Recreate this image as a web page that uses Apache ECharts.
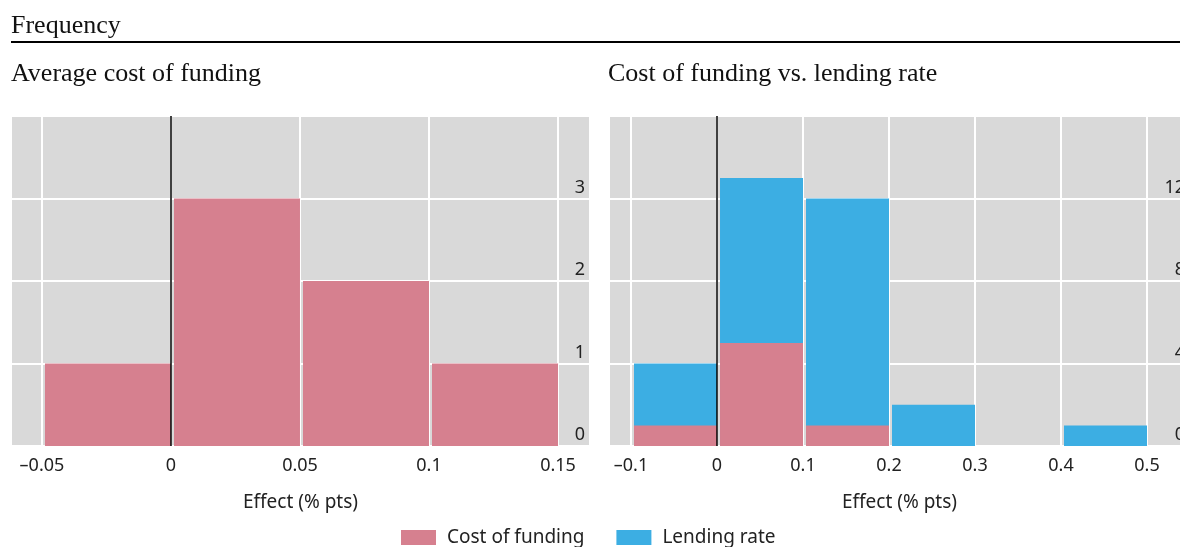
<!DOCTYPE html>
<html>
<head>
<meta charset="utf-8">
<script src="https://cdn.jsdelivr.net/npm/echarts@6/dist/echarts.min.js"></script>
<style>
  html, body { margin: 0; padding: 0; overflow: hidden; background: #fff; }
  #chart { width: 1200px; height: 547px; }
</style>
</head>
<body>
<div id="chart"></div>
<script>
// bin edges and counts
var leftEdges = [-0.05, 0, 0.05, 0.1, 0.15];
var leftCost = [1, 3, 2, 1];

var rightEdges = [-0.1, 0, 0.1, 0.2, 0.3, 0.4, 0.5];
var rightCost = [1, 5, 1, 0, 0, 0];
var rightLending = [4, 13, 12, 2, 0, 1];

var seriesNames = ['Cost of funding', 'Lending rate'];
var pink = '#d6808f';
var blue = '#3caee3';
var sans = 'Noto Sans';
var serif = 'Liberation Serif';

function bins(edges, counts) {
  var out = [];
  for (var i = 0; i < counts.length; i++) {
    if (counts[i] > 0) out.push([edges[i], edges[i + 1], counts[i]]);
  }
  return out;
}

function renderHist(params, api) {
  var p0 = api.coord([api.value(0), api.value(2)]);
  var p1 = api.coord([api.value(1), 0]);
  return {
    type: 'rect',
    shape: { x: p0[0] + 3, y: p0[1], width: p1[0] - p0[0] - 3, height: p1[1] - p0[1] },
    style: { fill: api.visual('color') }
  };
}

function dash(v) {
  return String(v).replace('-', '\u2013');
}

function xAxis(idx, min, max) {
  return {
    type: 'value', gridIndex: idx, min: min, max: max,
    name: 'Effect (% pts)', nameLocation: 'middle', nameGap: 47,
    nameTextStyle: { fontFamily: sans, fontSize: 19, color: '#222' },
    axisLine: { show: false }, axisTick: { show: false },
    axisLabel: { showMinLabel: false, showMaxLabel: false, margin: 11, fontFamily: sans, fontSize: 18, color: '#222', formatter: dash },
    splitLine: { show: true, lineStyle: { color: '#fff', width: 2 } }
  };
}

function yAxis(idx, max, step) {
  return {
    type: 'value', gridIndex: idx, position: 'right', min: 0, max: max, interval: step,
    axisLine: { show: false }, axisTick: { show: false },
    axisLabel: { inside: true, showMaxLabel: false, margin: 5, verticalAlign: 'bottom', padding: [0, 0, 2, 0], fontFamily: sans, fontSize: 18, color: '#222' },
    splitLine: { show: true, lineStyle: { color: '#fff', width: 2 } }
  };
}

var zeroLine = {
  symbol: ['none', 'none'], silent: true, animation: false,
  label: { show: false },
  lineStyle: { color: '#000', width: 1.5, type: 'solid' },
  emphasis: { disabled: true },
  data: [{ xAxis: 0 }]
};

var myChart = echarts.init(document.getElementById('chart'));
var option = {
  animation: false,
  grid: [
    { left: 11, top: 116, right: 610, bottom: 101, show: true, backgroundColor: '#d9d9d9', borderWidth: 0 },
    { left: 609, top: 116, right: 10, bottom: 101, show: true, backgroundColor: '#d9d9d9', borderWidth: 0 }
  ],
  xAxis: [xAxis(0, -0.062, 0.1624), xAxis(1, -0.1256, 0.55)],
  yAxis: [yAxis(0, 4, 1), yAxis(1, 16, 4)],
  legend: {
    left: 401, top: 528, padding: 0, itemWidth: 35, itemHeight: 15, itemGap: 32,
    icon: 'rect',
    textStyle: { fontFamily: sans, fontSize: 19, color: '#222', padding: [0, 0, 0, 6] },
    data: seriesNames
  },
  graphic: [
    { type: 'text', left: 11, top: 13, style: { text: 'Frequency', font: '26px "' + serif + '"', fill: '#111' } },
    { type: 'line', shape: { x1: 11, y1: 42, x2: 1200, y2: 42 }, style: { stroke: '#000', lineWidth: 2 } },
    { type: 'text', left: 11, top: 61, style: { text: 'Average cost of funding', font: '26px "' + serif + '"', fill: '#111' } },
    { type: 'text', left: 608, top: 61, style: { text: 'Cost of funding vs. lending rate', font: '26px "' + serif + '"', fill: '#111' } }
  ],
  series: [
    {
      name: seriesNames[0], type: 'custom', xAxisIndex: 0, yAxisIndex: 0,
      renderItem: renderHist, encode: { x: [0, 1], y: 2 },
      itemStyle: { color: pink },
      data: bins(leftEdges, leftCost),
      markLine: zeroLine
    },
    {
      name: seriesNames[1], type: 'custom', xAxisIndex: 1, yAxisIndex: 1,
      renderItem: renderHist, encode: { x: [0, 1], y: 2 },
      itemStyle: { color: blue },
      data: bins(rightEdges, rightLending)
    },
    {
      name: seriesNames[0], type: 'custom', xAxisIndex: 1, yAxisIndex: 1,
      renderItem: renderHist, encode: { x: [0, 1], y: 2 },
      itemStyle: { color: pink },
      data: bins(rightEdges, rightCost),
      markLine: zeroLine
    }
  ]
};
myChart.setOption(option);
</script>
</body>
</html>
